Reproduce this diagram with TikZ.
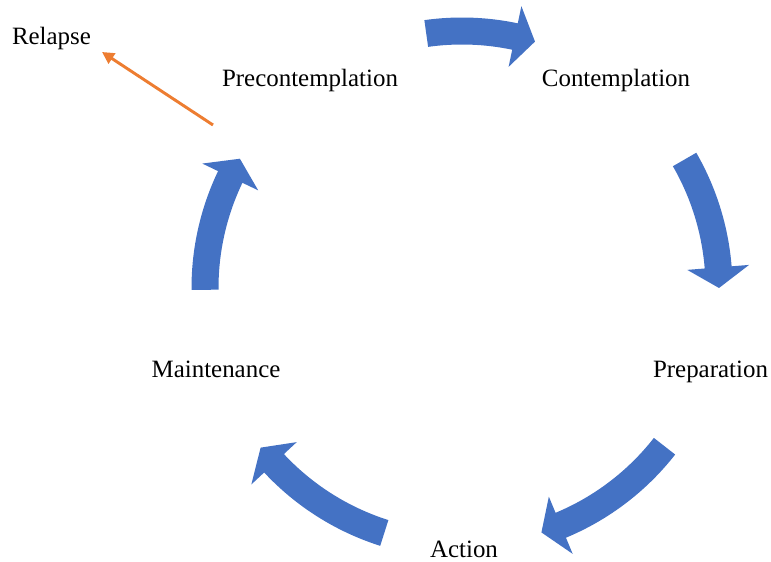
\documentclass[tikz,border=0pt]{standalone}
\usepackage{fontspec}
\setmainfont{Liberation Serif}
\usetikzlibrary{arrows.meta}
\definecolor{cycleblue}{HTML}{4472C4}
\definecolor{relapseorange}{HTML}{ED7D31}

\begin{document}
\begin{tikzpicture}[x=0.75pt, y=0.75pt,
    stagetext/.style={font=\fontsize{18.7}{22}\selectfont, anchor=base, inner sep=0pt}]
    \useasboundingbox (0,0) rectangle (771,561);

    % stage labels
    \node[stagetext] (precon)  at (310,474)   {Precontemplation};
    \node[stagetext] (contemp) at (616,474)   {Contemplation};
    \node[stagetext] (prep)    at (710.5,184) {Preparation};
    \node[stagetext] (action)  at (464,4)     {Action};
    \node[stagetext] (maint)   at (216,184)   {Maintenance};
    \node[stagetext] (relapse) at (51.5,516)  {Relapse};

    % curved block arrows round the centre of the cycle (clockwise)
    \begin{scope}[shift={(462,273)}]
    \foreach \a/\b in {98/73.5, 30/0, -38/-72, -107.6/-141.6, 180.4/149.8}{
        \pgfmathsetmacro{\headang}{\b+4.6}
        \fill[cycleblue] (\a:270.5) arc[start angle=\a, end angle=\headang, radius=270.5]
            -- (\headang:288) -- (\b:257) -- (\headang:226) -- (\headang:243.5)
            arc[start angle=\headang, end angle=\a, radius=243.5] -- cycle;
    }
    \end{scope}

    % relapse arrow
    \coordinate (relapse tail) at (213,436);
    \coordinate (relapse tip)  at (102,509);
    \draw[relapseorange, line width=2.2pt, -{Triangle[length=9pt, width=9pt]}]
        (relapse tail) -- (relapse tip);
\end{tikzpicture}
\end{document}
